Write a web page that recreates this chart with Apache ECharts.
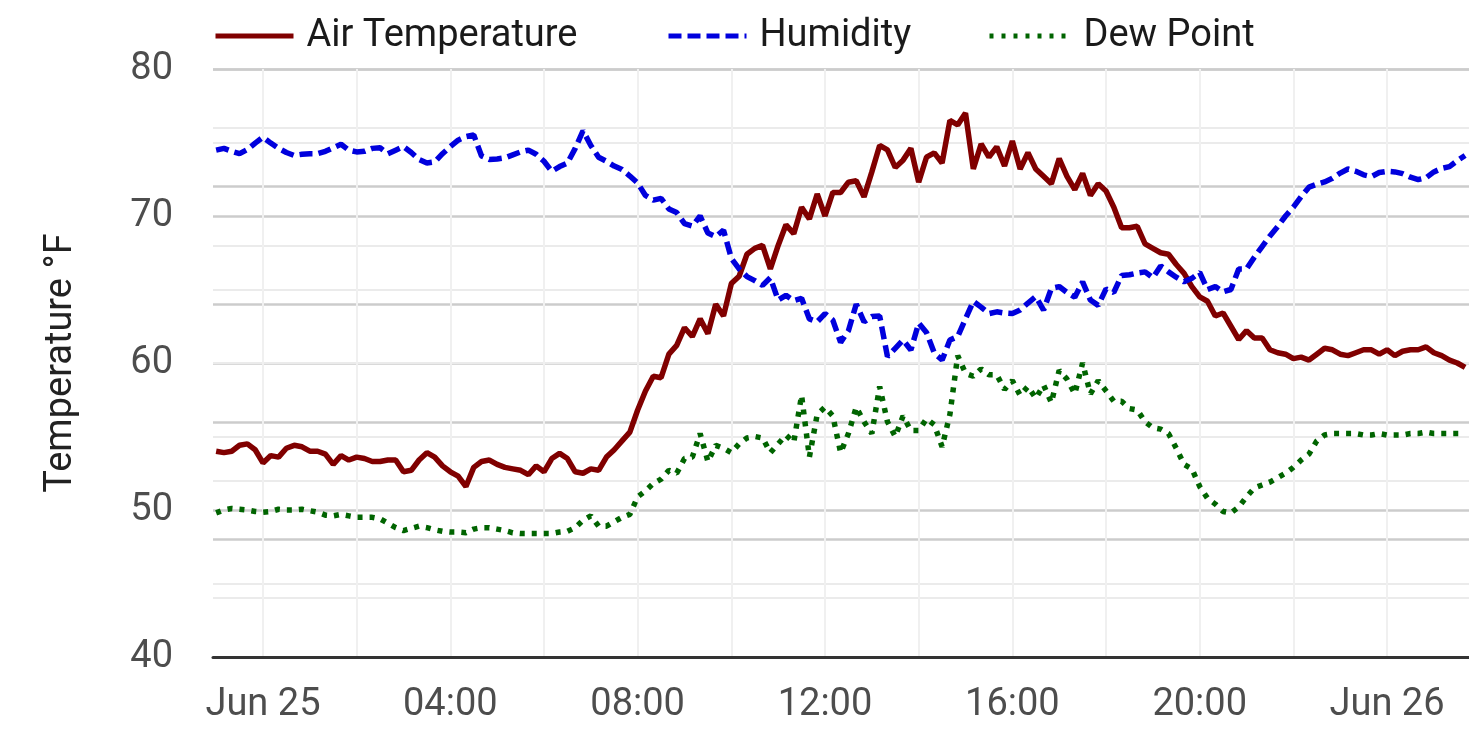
<!DOCTYPE html>
<html>
<head>
<meta charset="utf-8">
<title>Temperature</title>
<script src="https://cdn.jsdelivr.net/npm/echarts@6/dist/echarts.min.js"></script>
<style>
  html, body { margin: 0; padding: 0; background: #fff; }
  #chart { width: 1469px; height: 738px; }
</style>
</head>
<body>
<div id="chart"></div>
<script>
// readings every 10 minutes, from Jun 24 23:00 to Jun 26 01:40
// x is measured in hours from Jun 25 00:00
const refTime = new Date(2024, 5, 25, 0, 0).getTime();
const startTime = new Date(2024, 5, 24, 23, 0).getTime();
const stepMs = 10 * 60 * 1000;

// air temperature, °F
const airTemp = [
  54.0, 53.9, 54.0, 54.4, 54.5, 54.1,
  53.2, 53.7, 53.6, 54.2, 54.4, 54.3,
  54.0, 54.0, 53.8, 53.1, 53.7, 53.4,
  53.6, 53.5, 53.3, 53.3, 53.4, 53.4,
  52.6, 52.7, 53.4, 53.9, 53.6, 53.0,
  52.6, 52.3, 51.6, 52.9, 53.3, 53.4,
  53.1, 52.9, 52.8, 52.7, 52.4, 53.0,
  52.6, 53.5, 53.85, 53.5, 52.6, 52.5,
  52.8, 52.7, 53.6, 54.1, 54.7, 55.3,
  56.8, 58.1, 59.1, 59.0, 60.6, 61.2,
  62.4, 61.8, 63.0, 62.0, 64.0, 63.2,
  65.4, 65.9, 67.4, 67.8, 68.0, 66.4,
  68.0, 69.4, 68.8, 70.6, 69.8, 71.5,
  70.0, 71.6, 71.6, 72.3, 72.4, 71.3,
  73.0, 74.8, 74.5, 73.3, 73.8, 74.6,
  72.3, 74.0, 74.3, 73.6, 76.5, 76.2,
  77.0, 73.2, 74.9, 74.0, 74.7, 73.4,
  75.1, 73.2, 74.3, 73.2, 72.7, 72.2,
  73.9, 72.7, 71.8, 72.9, 71.4, 72.2,
  71.7, 70.6, 69.2, 69.2, 69.3, 68.1,
  67.8, 67.5, 67.4, 66.7, 66.1, 65.2,
  64.5, 64.2, 63.2, 63.4, 62.5, 61.6,
  62.2, 61.7, 61.7, 60.9, 60.7, 60.6,
  60.3, 60.4, 60.2, 60.6, 61.0, 60.9,
  60.6, 60.5, 60.7, 60.9, 60.9, 60.6,
  60.9, 60.5, 60.8, 60.9, 60.9, 61.1,
  60.7, 60.5, 60.2, 60.0, 59.7
];

// relative humidity, % (secondary scale 0-100)
const humidity = [
  86.2, 86.5, 86.0, 85.6, 86.3, 87.4,
  88.4, 87.4, 86.5, 85.8, 85.3, 85.5,
  85.6, 85.6, 86.0, 86.6, 87.2, 86.2,
  85.9, 86.0, 86.5, 86.6, 85.6, 86.2,
  86.8, 85.8, 84.6, 84.0, 84.2, 85.6,
  86.8, 87.9, 88.5, 88.8, 85.2, 84.6,
  84.7, 84.9, 85.4, 85.9, 86.2, 85.5,
  84.3, 82.6, 83.4, 84.0, 86.5, 89.5,
  87.0, 85.0, 84.3, 83.5, 82.9, 81.8,
  80.6, 78.5, 77.7, 78.0, 76.2, 75.6,
  73.7, 73.3, 75.0, 72.1, 71.5, 72.6,
  67.8, 66.0, 64.7, 64.0, 63.2, 64.5,
  60.7, 61.5, 60.6, 61.0, 57.5, 57.0,
  58.4, 57.3, 53.5, 55.5, 60.0, 57.0,
  57.9, 58.0, 51.1, 52.5, 53.9, 52.2,
  56.8, 55.2, 51.7, 50.5, 53.9, 54.5,
  57.5, 60.5, 59.5, 58.4, 58.7, 58.5,
  58.4, 59.0, 60.2, 61.3, 59.0, 62.7,
  63.0, 62.0, 61.2, 63.8, 60.7, 59.8,
  62.6, 62.0, 64.9, 65.0, 65.3, 65.5,
  64.5, 66.5, 65.5, 64.6, 63.8, 64.4,
  65.4, 62.5, 63.0, 62.1, 62.5, 66.0,
  66.0, 68.0, 69.8, 71.6, 73.2, 75.0,
  76.5, 78.3, 79.9, 80.4, 80.8, 81.4,
  82.3, 83.0, 82.6, 82.0, 81.7, 82.4,
  82.6, 82.5, 82.2, 81.6, 81.2, 81.5,
  82.5, 83.1, 83.4, 84.4, 85.3
];

// dew point, °F
const dewPoint = [
  49.8, 50.0, 50.1, 50.05, 50.0, 49.9,
  49.85, 49.9, 50.05, 50.0, 50.0, 50.05,
  49.95, 49.85, 49.65, 49.6, 49.7, 49.6,
  49.5, 49.5, 49.5, 49.4, 49.1, 48.8,
  48.6, 48.75, 48.9, 48.8, 48.65, 48.55,
  48.5, 48.5, 48.45, 48.7, 48.8, 48.8,
  48.7, 48.6, 48.45, 48.4, 48.4, 48.4,
  48.4, 48.4, 48.5, 48.55, 48.8, 49.3,
  49.6, 48.9, 48.9, 49.2, 49.5, 49.7,
  50.9, 51.3, 51.8, 52.1, 52.7, 52.5,
  53.5, 53.6, 55.2, 53.3, 54.4, 54.2,
  53.9, 54.5, 54.9, 55.0, 54.9, 53.9,
  54.5, 55.1, 54.6, 57.8, 53.6, 56.5,
  57.0, 56.4, 53.9, 55.2, 57.0, 56.0,
  55.2, 58.4, 56.0, 55.0, 56.4, 55.4,
  55.4, 56.2, 55.8, 54.3, 56.5, 60.5,
  59.3, 59.1, 59.6, 59.2, 59.2, 58.2,
  58.8, 57.8, 58.4, 57.6, 58.5, 57.3,
  59.5, 58.9, 57.9, 60.0, 57.9, 58.8,
  58.1, 57.4, 57.4, 56.9, 56.8, 56.0,
  55.6, 55.5, 55.2, 54.2, 53.1, 52.8,
  51.6, 50.8, 50.4, 49.9, 49.8, 50.2,
  50.9, 51.5, 51.7, 51.9, 52.2, 52.5,
  52.9, 53.4, 53.8, 54.7, 55.1, 55.2,
  55.2, 55.2, 55.2, 55.1, 55.1, 55.2,
  55.1, 55.1, 55.1, 55.2, 55.2, 55.3,
  55.2, 55.2, 55.2, 55.2, 55.2
];

// x axis labels every 4 hours, gridlines every 2 hours (hours from Jun 25 00:00)
const labelHours = [0, 4, 8, 12, 16, 20, 24];
const gridHours = [0, 2, 4, 6, 8, 10, 12, 14, 16, 18, 20, 22, 24];
const monthNames = ['Jan', 'Feb', 'Mar', 'Apr', 'May', 'Jun', 'Jul', 'Aug', 'Sep', 'Oct', 'Nov', 'Dec'];

function pairs(values) {
  return values.map((v, i) => [(startTime + i * stepMs - refTime) / 3600000, v]);
}

function fmtHour(h) {
  const d = new Date(refTime + Math.round(h * 3600000));
  if (d.getHours() === 0 && d.getMinutes() === 0) {
    return monthNames[d.getMonth()] + ' ' + d.getDate();
  }
  const hh = String(d.getHours()).padStart(2, '0');
  const mm = String(d.getMinutes()).padStart(2, '0');
  return hh + ':' + mm;
}

// one legend box per series so each key sits where the original put it
function legendAt(name, left, gap, dash) {
  return {
    data: [name],
    left: left,
    top: 17,
    padding: 0,
    itemWidth: 78,
    itemHeight: 20,
    itemStyle: { opacity: 0 },
    lineStyle: { width: 5, type: dash, cap: 'butt' },
    textStyle: { fontSize: 38, color: '#1a1a1a', fontFamily: 'Roboto', padding: [0, 0, 0, gap] }
  };
}

const chart = echarts.init(document.getElementById('chart'), null, { renderer: 'canvas' });

const majorGrid = { color: '#cccccc', width: 2.5 };
const minorGrid = { color: '#ebebeb', width: 2 };

const option = {
  backgroundColor: '#ffffff',
  animation: false,
  textStyle: { fontFamily: 'Roboto' },
  legend: [
    legendAt('Air Temperature', 213, 8, 'solid'),
    legendAt('Humidity', 666, 8, [13, 6]),
    legendAt('Dew Point', 987, 11, [4, 8])
  ],
  grid: { left: 213, right: 0, top: 69, bottom: 81, containLabel: false },
  xAxis: {
    type: 'value',
    min: -1.067,
    max: 25.75,
    axisLine: { show: true, onZero: false, lineStyle: { color: '#333333', width: 3 } },
    axisTick: { show: false, customValues: gridHours },
    axisLabel: {
      customValues: labelHours,
      formatter: fmtHour,
      fontSize: 38,
      color: '#4d4d4d',
      margin: 29,
      fontFamily: 'Roboto'
    },
    splitLine: { show: true, lineStyle: { color: '#f0f0f0', width: 2 } }
  },
  yAxis: [
    {
      type: 'value',
      min: 40,
      max: 80,
      interval: 10,
      name: 'Temperature °F',
      nameLocation: 'middle',
      nameGap: 133,
      nameTextStyle: { fontSize: 38, color: '#222222', fontFamily: 'Roboto' },
      axisLine: { show: false },
      axisTick: { show: false },
      axisLabel: { fontSize: 38, color: '#4d4d4d', margin: 40, fontFamily: 'Roboto' },
      splitLine: { show: true, lineStyle: majorGrid },
      minorTick: { show: false, splitNumber: 2 },
      minorSplitLine: { show: true, lineStyle: minorGrid }
    },
    {
      type: 'value',
      min: 0,
      max: 100,
      interval: 20,
      position: 'right',
      axisLine: { show: false },
      axisTick: { show: false },
      axisLabel: { show: false },
      splitLine: { show: true, lineStyle: majorGrid },
      minorTick: { show: false, splitNumber: 2 },
      minorSplitLine: { show: true, lineStyle: minorGrid }
    }
  ],
  series: [
    {
      name: 'Air Temperature',
      type: 'line',
      yAxisIndex: 0,
      data: pairs(airTemp),
      symbol: 'none',
      color: '#800000',
      lineStyle: { color: '#800000', width: 5.5 }
    },
    {
      name: 'Humidity',
      type: 'line',
      yAxisIndex: 1,
      data: pairs(humidity),
      symbol: 'none',
      color: '#0000dd',
      lineStyle: { color: '#0000dd', width: 5.5, type: [13, 6] }
    },
    {
      name: 'Dew Point',
      type: 'line',
      yAxisIndex: 0,
      data: pairs(dewPoint),
      symbol: 'none',
      color: '#006400',
      lineStyle: { color: '#006400', width: 5.5, type: [5, 7] }
    }
  ]
};

chart.setOption(option);
</script>
</body>
</html>
